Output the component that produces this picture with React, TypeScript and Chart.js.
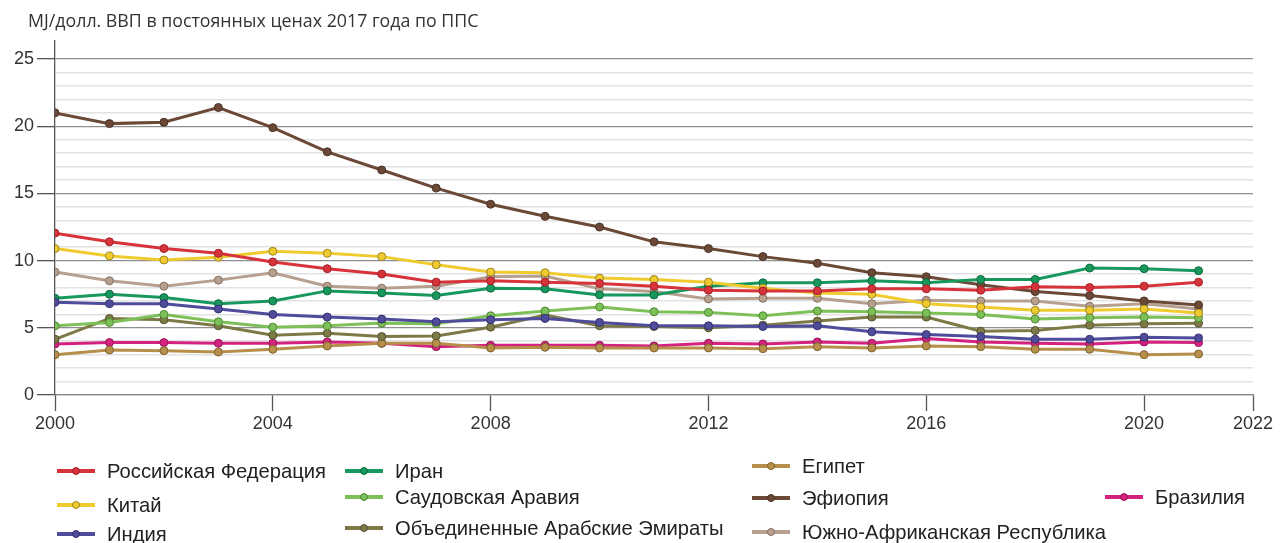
import React, { useEffect, useRef } from "react";
import { Chart, registerables } from "chart.js";

Chart.register(...registerables);

const years = [2000, 2001, 2002, 2003, 2004, 2005, 2006, 2007, 2008, 2009, 2010, 2011, 2012, 2013, 2014, 2015, 2016, 2017, 2018, 2019, 2020, 2021];

const russia = [12.05, 11.4, 10.9, 10.55, 9.9, 9.4, 9.0, 8.4, 8.5, 8.4, 8.3, 8.1, 7.8, 7.75, 7.75, 7.9, 7.9, 7.8, 8.05, 8.0, 8.1, 8.4];
const china = [10.9, 10.35, 10.05, 10.25, 10.7, 10.55, 10.3, 9.7, 9.15, 9.1, 8.7, 8.6, 8.4, 7.95, 7.6, 7.5, 6.8, 6.55, 6.3, 6.3, 6.4, 6.1];
const india = [6.9, 6.8, 6.8, 6.4, 6.0, 5.8, 5.65, 5.45, 5.6, 5.7, 5.4, 5.15, 5.15, 5.1, 5.15, 4.7, 4.5, 4.35, 4.15, 4.15, 4.3, 4.25];
const iran = [7.2, 7.5, 7.25, 6.8, 7.0, 7.75, 7.6, 7.4, 7.95, 7.9, 7.45, 7.45, 8.1, 8.35, 8.35, 8.5, 8.35, 8.6, 8.6, 9.45, 9.4, 9.25];
const saudi = [5.15, 5.4, 6.0, 5.45, 5.05, 5.15, 5.35, 5.3, 5.9, 6.25, 6.55, 6.2, 6.15, 5.9, 6.25, 6.2, 6.1, 6.0, 5.65, 5.75, 5.8, 5.75];
const uae = [4.15, 5.7, 5.6, 5.15, 4.45, 4.6, 4.35, 4.4, 5.05, 5.95, 5.15, 5.1, 5.0, 5.2, 5.5, 5.8, 5.8, 4.75, 4.8, 5.2, 5.3, 5.35];
const egypt = [3.0, 3.35, 3.3, 3.2, 3.4, 3.65, 3.85, 3.85, 3.5, 3.55, 3.5, 3.5, 3.5, 3.45, 3.6, 3.5, 3.65, 3.6, 3.4, 3.4, 3.0, 3.05];
const ethiopia = [21.0, 20.2, 20.3, 21.4, 19.9, 18.1, 16.75, 15.4, 14.2, 13.3, 12.5, 11.4, 10.9, 10.3, 9.8, 9.1, 8.8, 8.2, 7.7, 7.4, 7.0, 6.7];
const southAfrica = [9.15, 8.5, 8.1, 8.55, 9.1, 8.1, 7.95, 8.1, 8.8, 8.85, 7.9, 7.7, 7.15, 7.2, 7.2, 6.8, 7.05, 7.0, 7.0, 6.6, 6.8, 6.4];
const brazil = [3.8, 3.9, 3.9, 3.85, 3.85, 3.95, 3.85, 3.6, 3.7, 3.7, 3.7, 3.65, 3.85, 3.8, 3.95, 3.85, 4.2, 3.95, 3.85, 3.8, 3.95, 3.9];

const seriesNames = [
  "Российская Федерация",
  "Китай",
  "Индия",
  "Иран",
  "Саудовская Аравия",
  "Объединенные Арабские Эмираты",
  "Египет",
  "Эфиопия",
  "Южно-Африканская Республика",
  "Бразилия",
];
const seriesValues = [russia, china, india, iran, saudi, uae, egypt, ethiopia, southAfrica, brazil];

const xTicks = [2000, 2004, 2008, 2012, 2016, 2020, 2022];
const yTicks = [0, 1, 2, 3, 4, 5, 6, 7, 8, 9, 10, 11, 12, 13, 14, 15, 16, 17, 18, 19, 20, 21, 22, 23, 24, 25];

const titleText = "MJ/долл. ВВП в постоянных ценах 2017 года по ППС";

const lineColors = ["#d7333a", "#f0cb2f", "#4f4c9c", "#18985c", "#7cc057", "#7d7a47", "#b68f4b", "#6b4936", "#b7a08f", "#d3237e"];
const pointBorders = ["#a3232a", "#9c8520", "#34326e", "#0f6b40", "#4f8a35", "#55532e", "#806330", "#4a3224", "#85705f", "#961657"];

const legendPos = [
  { left: 57, top: 471 },
  { left: 57, top: 505 },
  { left: 57, top: 534 },
  { left: 345, top: 471 },
  { left: 345, top: 497 },
  { left: 345, top: 528 },
  { left: 752, top: 466 },
  { left: 752, top: 498 },
  { left: 752, top: 532 },
  { left: 1105, top: 497 },
];

const FONT = "'Liberation Sans', Arial, sans-serif";

export default function App() {
  const ref = useRef<HTMLCanvasElement>(null);

  useEffect(() => {
    if (!ref.current) return;
    const datasets = seriesValues.map((vals, i) => ({
      label: seriesNames[i],
      data: vals.map((v, j) => ({ x: years[j], y: v })),
      borderColor: lineColors[i],
      backgroundColor: lineColors[i],
      pointBackgroundColor: lineColors[i],
      pointBorderColor: pointBorders[i],
      pointBorderWidth: 1,
      pointRadius: 4,
      borderWidth: 3,
      tension: 0,
    }));
    const chart = new Chart(ref.current, {
      type: "line",
      data: { datasets },
      options: {
        animation: false,
        responsive: true,
        maintainAspectRatio: false,
        layout: { padding: { top: 41, right: 27, bottom: 0, left: 0 } },
        plugins: { legend: { display: false }, tooltip: { enabled: false }, title: { display: false } },
        scales: {
          x: {
            type: "linear",
            min: 2000,
            max: 2022,
            afterBuildTicks: (scale: any) => {
              scale.ticks = xTicks.map((v) => ({ value: v }));
            },
            afterFit: (scale: any) => {
              scale.height = 148;
            },
            ticks: {
              autoSkip: false,
              maxRotation: 0,
              padding: 2,
              color: "#333",
              font: { family: FONT, size: 18 },
              callback: (v: any) => String(v),
            },
            grid: {
              drawOnChartArea: false,
              drawTicks: true,
              tickLength: 16,
              tickColor: "#555",
              tickWidth: 1.3,
            },
            border: { display: true, color: "#888", width: 1.3 },
          },
          y: {
            type: "linear",
            min: 0,
            max: 26.35,
            afterBuildTicks: (scale: any) => {
              scale.ticks = yTicks.map((v) => ({ value: v }));
            },
            afterFit: (scale: any) => {
              scale.width = 55;
            },
            ticks: {
              autoSkip: false,
              padding: 3,
              color: "#333",
              font: { family: FONT, size: 18 },
              callback: (v: any) => (Number(v) % 5 === 0 ? String(v) : ""),
            },
            grid: {
              drawTicks: true,
              tickLength: 18,
              color: (ctx: any) => (ctx.tick && ctx.tick.value % 5 === 0 ? "#8f8f8f" : "#e2e2e2"),
              lineWidth: (ctx: any) => (ctx.tick && ctx.tick.value % 5 === 0 ? 1.3 : 1.6),
              tickColor: (ctx: any) => (ctx.tick && ctx.tick.value % 5 === 0 ? "#555" : "rgba(0,0,0,0)"),
              tickWidth: 1.3,
            },
            border: { display: true, color: "#555", width: 1.3 },
          },
        },
      },
    });
    return () => chart.destroy();
  }, []);

  return (
    <div style={{ position: "fixed", left: 0, top: 0, width: 1280, height: 543, background: "#fff", overflow: "hidden" }}>
      <div style={{ position: "absolute", left: 0, top: 0, width: 1280, height: 543 }}>
        <canvas ref={ref} />
      </div>
      <div
        style={{
          position: "absolute",
          left: 28,
          top: 8,
          fontFamily: "'Open Sans', 'Noto Sans', sans-serif",
          fontSize: 17.8,
          color: "#333",
          whiteSpace: "nowrap",
          lineHeight: "24px",
        }}
      >
        {titleText}
      </div>
      {seriesNames.map((name, i) => (
        <div
          key={name}
          style={{
            position: "absolute",
            left: legendPos[i].left,
            top: legendPos[i].top - 12,
            height: 24,
            display: "flex",
            alignItems: "center",
            whiteSpace: "nowrap",
            fontFamily: FONT,
            fontSize: 20.2,
            color: "#222",
          }}
        >
          <span style={{ position: "relative", display: "inline-block", width: 38, height: 24, marginRight: 12 }}>
            <span
              style={{
                position: "absolute",
                left: 0,
                top: 10,
                width: 38,
                height: 4,
                background: lineColors[i],
              }}
            />
            <span
              style={{
                position: "absolute",
                left: 15,
                top: 8,
                width: 6,
                height: 6,
                borderRadius: "50%",
                background: lineColors[i],
                border: `1px solid ${pointBorders[i]}`,
              }}
            />
          </span>
          {name}
        </div>
      ))}
    </div>
  );
}
